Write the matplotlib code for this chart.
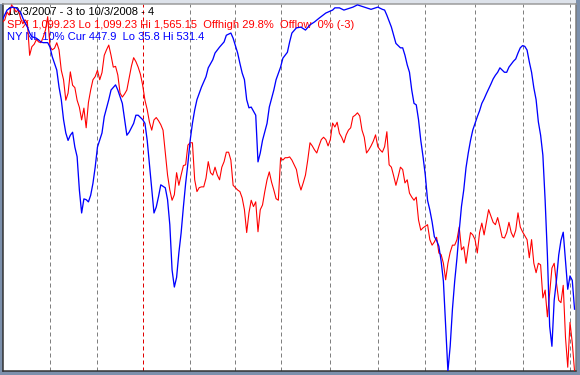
import matplotlib
matplotlib.use("Agg")
import matplotlib.pyplot as plt
import numpy as np
from matplotlib.patches import Rectangle

# ---- data ----
title_text = "10/3/2007 - 3 to 10/3/2008 - 4"
spx_text = "SPX 1,099.23 Lo 1,099.23 Hi 1,565.15  Offhigh 29.8%  Offlow  0% (-3)"
nl_text = "NY NL 10% Cur 447.9  Lo 35.8 Hi 531.4"

spx_lo, spx_hi = 1099.23, 1565.15
nl_lo, nl_hi = 35.8, 531.4

# SPX close, one value per trading day from 10/3/2007
spx_close = [
    1542, 1545, 1555, 1551, 1564, 1560, 1555, 1558, 1547, 1540,
    1545, 1542, 1500, 1511, 1514, 1520, 1517, 1516, 1523, 1532,
    1549, 1511, 1507, 1509, 1516, 1507, 1481, 1469, 1443, 1452,
    1479, 1462, 1459, 1443, 1434, 1418, 1433, 1408, 1440, 1456,
    1469, 1473, 1481, 1469, 1478, 1500, 1507, 1513, 1500, 1485,
    1486, 1475, 1452, 1447, 1451, 1456, 1471, 1486, 1497, 1492,
    1485, 1476, 1462, 1443, 1431, 1415, 1405, 1418, 1421, 1417,
    1412, 1405, 1376, 1348, 1329, 1316, 1323, 1351, 1335, 1348,
    1360, 1361, 1386, 1389, 1389, 1342, 1327, 1332, 1333, 1333,
    1344, 1365, 1351, 1348, 1358, 1348, 1342, 1358, 1365, 1377,
    1377, 1367, 1335, 1332, 1329, 1327, 1319, 1304, 1275, 1300,
    1316, 1308, 1314, 1276, 1304, 1310, 1327, 1342, 1352, 1339,
    1329, 1318, 1316, 1370, 1367, 1370, 1370, 1371, 1367, 1361,
    1355, 1339, 1329, 1338, 1348, 1367, 1389, 1385, 1380, 1376,
    1385, 1393, 1396, 1393, 1385, 1393, 1414, 1409, 1415, 1401,
    1396, 1389, 1399, 1405, 1408, 1422, 1424, 1427, 1423, 1405,
    1396, 1376, 1380, 1385, 1391, 1399, 1384, 1380, 1377, 1384,
    1403, 1361, 1358, 1347, 1335, 1346, 1358, 1355, 1338, 1342,
    1325, 1320, 1316, 1320, 1291, 1278, 1281, 1283, 1285, 1266,
    1259, 1263, 1269, 1249, 1247, 1236, 1215, 1236, 1250, 1259,
    1259, 1266, 1282, 1253, 1257, 1236, 1257, 1275, 1272, 1266,
    1249, 1275, 1287, 1272, 1288, 1304, 1296, 1288, 1285, 1294,
    1282, 1269, 1268, 1275, 1288, 1275, 1269, 1278, 1300, 1282,
    1276, 1271, 1266, 1243, 1266, 1236, 1224, 1236, 1234, 1192,
    1202, 1168, 1198, 1230, 1236, 1211, 1189, 1186, 1208, 1142,
    1104, 1161, 1135, 1099.23,
]

# NY new lows (10% smoothing), sampled trading-day index and value
nl_days = [
    0, 2, 4, 6, 8, 9, 11, 12, 13, 15, 17, 18, 20, 21, 22, 24, 25, 26, 27, 28,
    29, 30, 31, 32, 33, 34, 35, 36, 37, 38, 39, 40, 41, 42, 44, 45, 47, 48, 50, 51,
    53, 54, 55, 56, 58, 59, 60, 62, 63, 64, 65, 66, 67, 68, 69, 70, 72, 73, 74, 75,
    76, 77, 78, 79, 80, 81, 82, 83, 84, 85, 86, 88, 90, 91, 93, 94, 96, 98, 99, 101,
    102, 104, 105, 106, 107, 108, 109, 110, 112, 113, 114, 115, 117, 118, 120, 121, 123, 124, 126, 127,
    128, 130, 132, 134, 136, 138, 140, 143, 146, 147, 149, 151, 155, 157, 160, 163, 166, 168, 169, 170,
    172, 174, 176, 177, 178, 179, 180, 181, 182, 183, 184, 185, 186, 187, 188, 189, 190, 191, 192, 193,
    194, 195, 196, 197, 198, 199, 200, 201, 202, 203, 204, 205, 206, 207, 208, 209, 210, 211, 212, 213,
    214, 216, 217, 218, 219, 220, 221, 222, 223, 224, 225, 226, 227, 228, 229, 230, 231, 232, 233, 234,
    235, 236, 237, 238, 239, 240, 241, 242, 243, 244, 245, 246, 247, 248, 249, 250, 251, 252, 253,
]
nl_values = [
    57, 44, 40, 41, 47, 55, 67, 75, 80, 82, 87, 88, 88, 94, 107, 125, 148, 165, 192, 210,
    220, 213, 209, 229, 242, 287, 318, 299, 300, 303, 294, 278, 256, 229, 210, 188, 165, 152, 145, 152,
    170, 192, 213, 209, 197, 186, 186, 192, 197, 220, 253, 287, 318, 310, 296, 280, 284, 300, 334, 395,
    418, 405, 372, 345, 310, 278, 251, 220, 197, 179, 165, 148, 134, 122, 111, 102, 94, 87, 78, 75,
    82, 102, 116, 129, 138, 165, 176, 175, 186, 249, 237, 220, 197, 175, 152, 138, 121, 109, 101, 87,
    75, 68, 67, 71, 64, 60, 55, 48, 44, 41, 41, 44, 40, 37, 40, 43, 40, 43, 44, 51,
    67, 89, 95, 95, 105, 118, 128, 152, 170, 172, 192, 220, 242, 267, 301, 314, 330, 350, 355, 363,
    383, 410, 471, 531.4, 498, 448, 410, 379, 342, 309, 287, 257, 237, 220, 206, 197, 188, 180, 170, 164,
    157, 144, 137, 132, 128, 122, 125, 128, 128, 121, 117, 113, 110, 102, 95, 92, 93, 98, 114, 128,
    149, 165, 195, 213, 240, 301, 375, 471, 498, 436, 409, 375, 355, 344, 383, 421, 403, 409, 447.9,
]

# month-start trading-day indices (grid); year change marked red
month_days = [21, 42, 83, 103, 123, 145, 166, 187, 209, 230, 251]
year_day = 62

# ---- figure ----
W, H = 580, 375
fig = plt.figure(figsize=(W / 100, H / 100), dpi=100)
fig.patch.set_facecolor("#7c90ac")
# light title band at top of frame
fig.patches.append(Rectangle((0, 1 - 4 / H), 576 / W, 4 / H, transform=fig.transFigure,
                             facecolor="#dde2ea", edgecolor="none", zorder=-5))

L, R, T, B = 3, 576, 4, 371
ax = fig.add_axes([L / W, 1 - B / H, (R - L) / W, (B - T) / H])
ax.set_facecolor("white")
ax2 = ax.twinx()

days = np.arange(len(spx_close))
ax.set_xlim(0.22, 253.65)
ax.set_ylim(spx_lo, spx_hi)
ax2.set_ylim(nl_hi, nl_lo)

px = 72 / 100
for d in month_days:
    ax.axvline(d, color="#808080", lw=1 * px, ls=(0, (4, 3)), zorder=0.5)
ax.axvline(year_day, color="#e00000", lw=1 * px, ls=(0, (4, 3)), zorder=0.5)

ax.plot(days, spx_close, color="#ff0000", lw=1.1 * px, zorder=3)
ax2.plot(nl_days, nl_values, color="#0000ff", lw=1.3 * px, zorder=3)

for a in (ax, ax2):
    a.set_xticks([])
    a.set_yticks([])
    for s in a.spines.values():
        s.set_visible(False)

ax.spines["left"].set_visible(True)
ax.spines["left"].set_color("#303030")
ax.spines["bottom"].set_visible(True)
ax.spines["bottom"].set_color("#303030")
ax.spines["top"].set_visible(True)
ax.spines["top"].set_color("#9a9a9a")
ax.spines["right"].set_visible(True)
ax.spines["right"].set_color("#7a7a7a")
for s in ax.spines.values():
    s.set_linewidth(1.5 * px)

font = dict(family=["Liberation Sans", "DejaVu Sans"], fontsize=8.0)
ax.text(7 / W, 1 - 15 / H, title_text, color="black", transform=fig.transFigure,
        va="baseline", ha="left", zorder=1, **font)
ax.text(7 / W, 1 - 28 / H, spx_text, color="#ff0000", transform=fig.transFigure,
        va="baseline", ha="left", zorder=1, **font)
ax.text(7 / W, 1 - 40 / H, nl_text, color="#0000ff", transform=fig.transFigure,
        va="baseline", ha="left", zorder=1, **font)

fig.savefig("out.png", dpi=100, facecolor=fig.get_facecolor())
